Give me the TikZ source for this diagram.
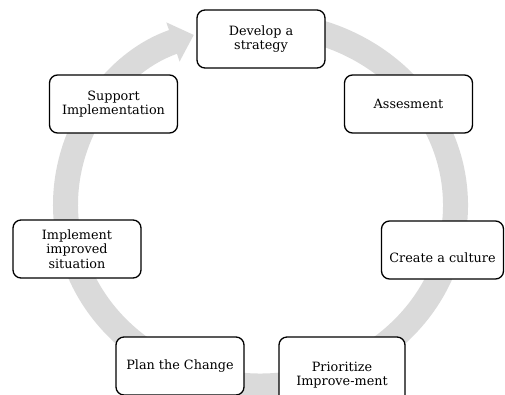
\documentclass[tikz,border=0pt]{standalone}
\usepackage{fontspec}
\setmainfont{DejaVu Serif}
\usetikzlibrary{arrows.meta}
\definecolor{ringgray}{RGB}{218,218,218}
\begin{document}
\begin{tikzpicture}[x=1pt, y=-1pt, line join=round,
        box/.style={draw, line width=1.3pt, rounded corners=8pt, fill=white, align=center,
            minimum width=128pt, minimum height=58pt, inner sep=2pt,
            font=\fontsize{12.8}{14.6}\selectfont}]
        \useasboundingbox (0,0) rectangle (505,394);
        % the cycle behind the boxes
        \draw[ringgray, line width=25pt, -{Triangle[length=22pt,width=40pt]}]
        (260.5,205) ++(-95:195 and 181) arc[start angle=-95, end angle=250, x radius=195, y radius=181];
        % the steps
        \node[box] (dev) at (261,39) {Develop a\\strategy};
        \node[box] (ass) at (408.5,104) {Assesment};
        \node[box, minimum width=122pt] (cul) at (442.5,250) {\strut\\Create a culture};
        \node[box, minimum width=126pt, minimum height=76pt] (pri) at (342,375) {Prioritize\\Improve-ment};
        \node[box] (pla) at (180,366) {Plan the Change};
        \node[box] (imp) at (77,249) {Implement\\improved\\situation};
        \node[box] (sup) at (113.5,104) {Support\\Implementation};
\end{tikzpicture}
\end{document}
